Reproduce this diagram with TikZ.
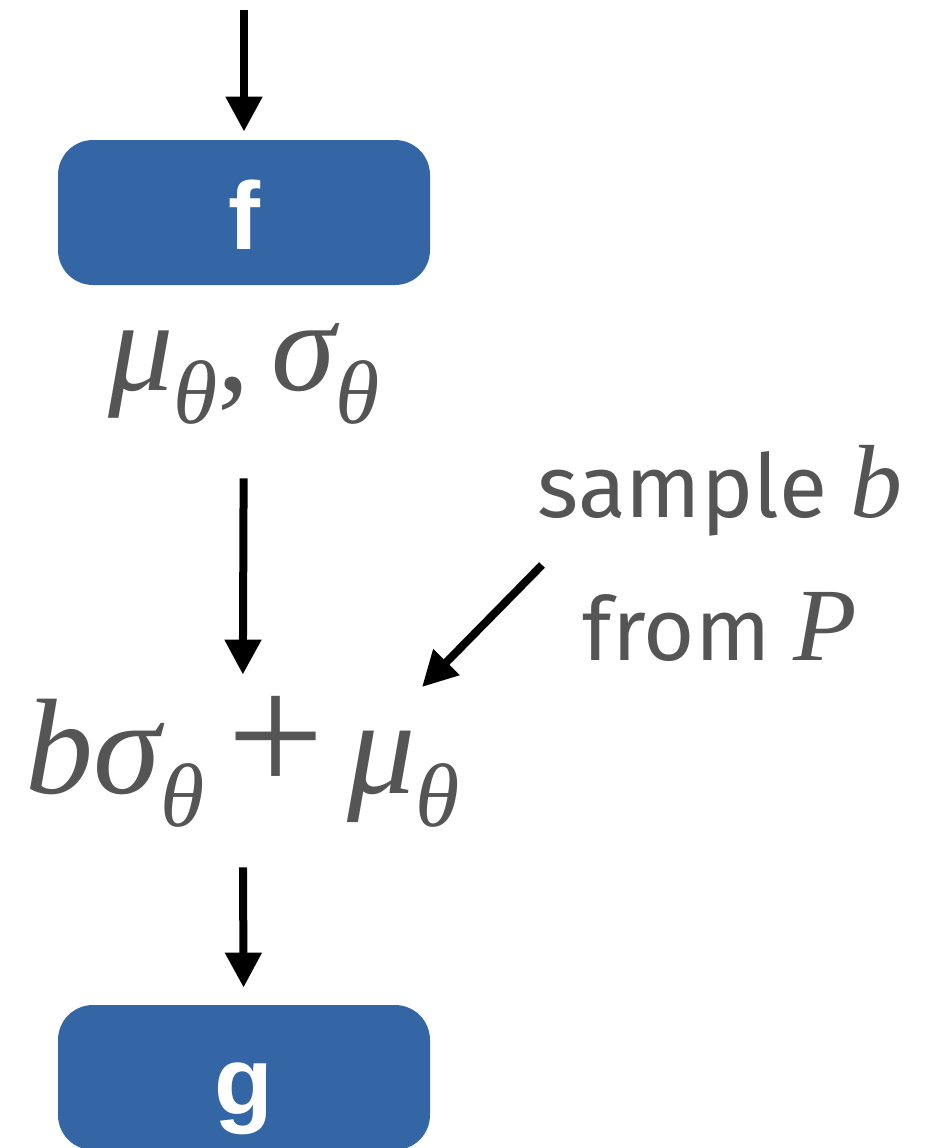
\documentclass[tikz,border=0pt]{standalone}
\usepackage{fontspec}
\usetikzlibrary{arrows.meta}
\newfontfamily\boxfont{Liberation Sans Bold}
\newfontfamily\notefont{Fira Sans}
\newfontfamily\myrm{Liberation Serif}
\newfontfamily\myit{Liberation Serif Italic}
\newcommand{\subth}{\raisebox{-16.5pt}{\fontsize{45}{45}\selectfont\myit θ}}
\definecolor{boxblue}{HTML}{3466A5}
\definecolor{txtgray}{HTML}{555555}
\begin{document}
\begin{tikzpicture}[x=0.5pt,y=-0.5pt,
  blk/.style={fill=boxblue, rounded corners=17.5pt, minimum width=186pt, minimum height=72.5pt,
    inner sep=0pt, text=white, font=\boxfont\fontsize{48}{48}\selectfont, text height=37pt, text depth=0pt},
  mtxt/.style={text=txtgray, inner sep=0pt, font=\myit\fontsize{65}{65}\selectfont},
  note/.style={text=txtgray, inner sep=0pt, align=center, font=\notefont\fontsize{44}{71.5}\selectfont},
  arr/.style={line width=4pt, -{Triangle[length=17.5pt,width=17.5pt]}},
]
\useasboundingbox (0,0) rectangle (943,1148);
\node[blk] (f) at (244,212.5) {f};
\node[blk] (g) at (244,1077.5) {g};
\node[mtxt, anchor=base, text height=30pt, text depth=20pt] (ms) at (244,390) {μ\subth{\myrm,}\,σ\subth};
\node[mtxt, anchor=base, text height=46pt, text depth=17pt, font=\myit\fontsize{68}{68}\selectfont] (ex) at (242.5,793) {bσ\subth\,{\myrm\fontsize{86}{86}\selectfont +}\,μ\subth};
\node[note, anchor=base] (smp) at (720,660) {sample {\myit\fontsize{52}{52}\selectfont b}\\from {\myit\fontsize{52}{52}\selectfont P}};
\coordinate (in) at (244,10);
\coordinate (ds) at (542,565);
\coordinate (de) at (422,687);
\draw[arr, shorten >=4pt] (in) -- (f);
\draw[arr, shorten <=24pt, shorten >=13pt] (ms) -- (ex);
\draw[arr, shorten <=20pt, shorten >=8.5pt] (ex) -- (g);
\draw[arr] (ds) -- (de);
\end{tikzpicture}
\end{document}
